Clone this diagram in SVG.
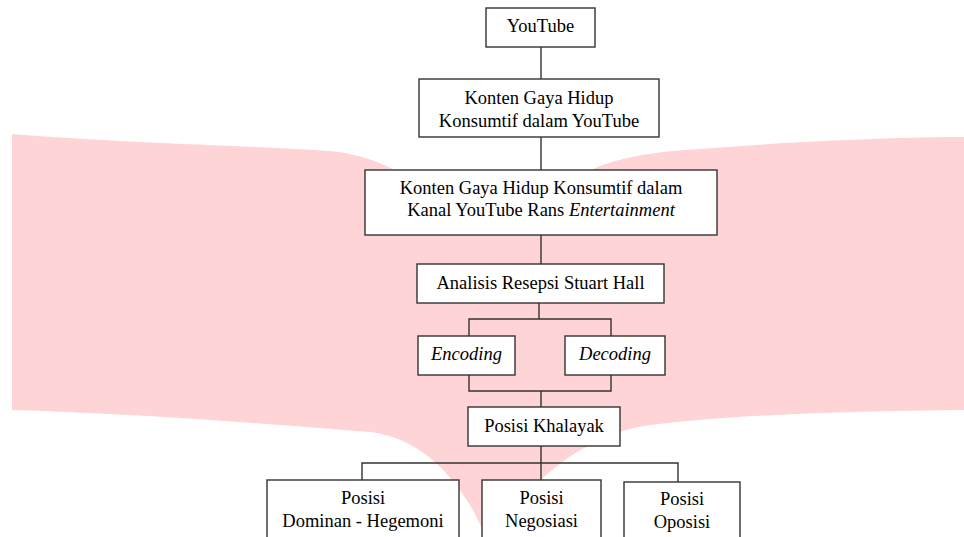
<svg xmlns="http://www.w3.org/2000/svg" width="964" height="537" viewBox="0 0 964 537">
<style>
.box{fill:#fff;stroke:#333;stroke-width:1.4}
.t{font-family:"Liberation Serif","Times New Roman",serif;font-size:18.5px;fill:#000;text-anchor:middle}
.i{font-style:italic}
.c{fill:none;stroke:#333;stroke-width:1.4}
</style>
<rect width="964" height="537" fill="#fff"/>
<path id="banner" d="M12,134 C120,143 260,146 330,151 C360,154 380,162 400,173 L493,215 L585,173 C605,162 640,152 700,149 C800,141 900,137 964,137 L964,410 C860,411 740,414 650,425 C600,432 560,460 530,490 C510,510 497,530 489,545 C480,520 466,495 445,472 C425,450 400,436 370,432 C280,425 150,414 12,410 Z" fill="#FED4D6"/>
<g id="connectors">
<path class="c" d="M541,47 V79 M541,137 V170 M541,235 V264 M539,303 V319 M469,336 V319 H611 V336 M469,375 V391 H611 V375 M541,391 V407 M541,446 V480 M362,480 V463 H678 V482"/>
</g>
<g id="n1"><rect class="box" x="486" y="8" width="109" height="39"/><text class="t" x="540.5" y="32">YouTube</text></g>
<g id="n2"><rect class="box" x="419" y="79" width="240" height="58"/><text class="t" x="539" y="104">Konten Gaya Hidup</text><text class="t" x="539" y="127">Konsumtif dalam YouTube</text></g>
<g id="n3"><rect class="box" x="365" y="170" width="352" height="65"/><text class="t" x="541" y="194">Konten Gaya Hidup Konsumtif dalam</text><text class="t" x="541" y="216">Kanal YouTube Rans <tspan class="i">Entertainment</tspan></text></g>
<g id="n4"><rect class="box" x="417" y="264" width="247" height="39"/><text class="t" x="540.5" y="289">Analisis Resepsi Stuart Hall</text></g>
<g id="n5"><rect class="box" x="418" y="336" width="97" height="39"/><text class="t i" x="466.5" y="360">Encoding</text></g>
<g id="n6"><rect class="box" x="565" y="336" width="100" height="39"/><text class="t i" x="615" y="360">Decoding</text></g>
<g id="n7"><rect class="box" x="468" y="407" width="152" height="39"/><text class="t" x="544" y="432">Posisi Khalayak</text></g>
<g id="n8"><rect class="box" x="267" y="480" width="192" height="70"/><text class="t" x="363" y="504">Posisi</text><text class="t" x="363" y="527">Dominan - Hegemoni</text></g>
<g id="n9"><rect class="box" x="482" y="480" width="119" height="70"/><text class="t" x="541.5" y="504">Posisi</text><text class="t" x="541.5" y="527">Negosiasi</text></g>
<g id="n10"><rect class="box" x="624" y="482" width="116" height="70"/><text class="t" x="682" y="505">Posisi</text><text class="t" x="682" y="528">Oposisi</text></g>
</svg>
